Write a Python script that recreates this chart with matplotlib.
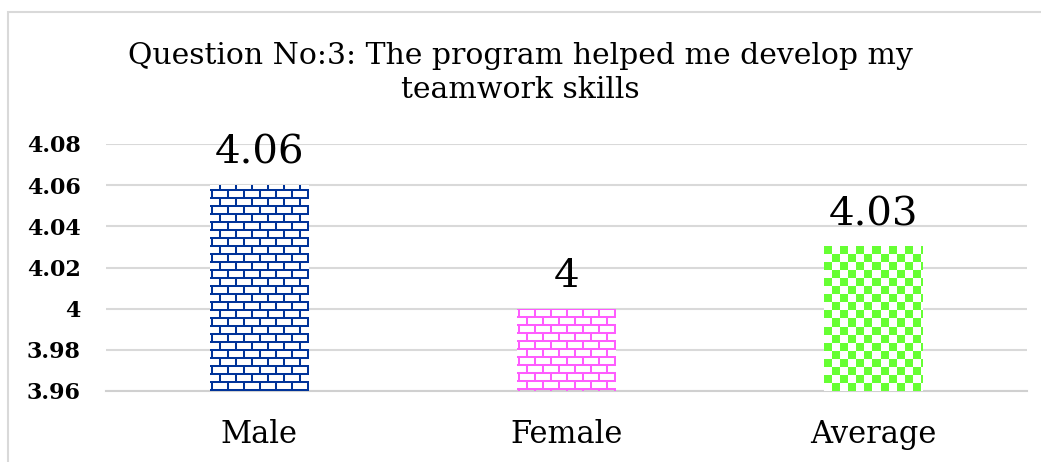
import numpy as np
import matplotlib
matplotlib.use("Agg")
import matplotlib.pyplot as plt
from matplotlib.patches import Rectangle
from matplotlib.collections import LineCollection

categories = ["Male", "Female", "Average"]
values = [4.06, 4.00, 4.03]
value_labels = ["4.06", "4", "4.03"]
yticks = [3.96, 3.98, 4.00, 4.02, 4.04, 4.06, 4.08]
ytick_labels = ["3.96", "3.98", "4", "4.02", "4.04", "4.06", "4.08"]
title = "Question No:3: The program helped me develop my\nteamwork skills"
colors = ["#003399", "#FF5CFF", "#66FF33"]
patterns = ["brick", "brick", "check"]
pattern_first_row = [5, 0, 0]

W, H = 1041, 462
fig = plt.figure(figsize=(W / 100, H / 100), dpi=100)
ax = fig.add_axes([106 / W, 1 - 391 / H, (1027 - 106) / W, (391 - 144) / H])

serif = "DejaVu Serif"

x = np.arange(len(categories))
bars = ax.bar(x, [v - 3.96 for v in values], bottom=3.96, width=0.32,
              color="white", edgecolor="none", zorder=2)
ax.set_xlim(-0.5, len(categories) - 0.5)
ax.set_ylim(3.96, 4.08)
ax.set_yticks(yticks)
ax.set_yticklabels(ytick_labels, fontfamily=serif, fontsize=16, fontweight="bold")
ax.set_xticks(x)
ax.set_xticklabels(categories, fontfamily=serif, fontsize=22)
ax.tick_params(axis="both", length=0)
ax.tick_params(axis="y", pad=18)
ax.tick_params(axis="x", pad=20)
ax.grid(axis="y", color="#D9D9D9", linewidth=1.5, zorder=0)
for s in ["top", "right", "left"]:
    ax.spines[s].set_visible(False)
ax.spines["bottom"].set_color("#D0D0D0")
ax.spines["bottom"].set_linewidth(1.5)

fig.canvas.draw()
# pixel -> data scale factors
px_x = (ax.get_xlim()[1] - ax.get_xlim()[0]) / ax.bbox.width
px_y = (ax.get_ylim()[1] - ax.get_ylim()[0]) / ax.bbox.height


def brick_lines(b, first, row=8, brick=16, xoff=10):
    x0, y0 = b.get_x(), b.get_y()
    x1, y1 = x0 + b.get_width(), y0 + b.get_height()
    segs = []
    hpx = (y1 - y0) / px_y
    wpx = (x1 - x0) / px_x
    ys = np.arange(first, hpx + row, row)
    for yp in ys:
        yd = y1 - yp * px_y
        segs.append([(x0, yd), (x1, yd)])
    bounds = np.concatenate([[first - row], ys])
    for i in range(len(bounds) - 1):
        top = y1 - bounds[i] * px_y
        bot = y1 - bounds[i + 1] * px_y
        off = xoff + (i % 2) * (brick // 2)
        for xp in np.arange(off % brick - brick, wpx + brick, brick):
            xd = x0 + xp * px_x
            segs.append([(xd, top), (xd, bot)])
    return segs


for b, col, kind, first in zip(bars, colors, patterns, pattern_first_row):
    if kind == "brick":
        lc = LineCollection(brick_lines(b, first), colors=col, linewidths=1.45,
                            zorder=3, capstyle="butt")
        ax.add_collection(lc)
        lc.set_clip_path(b)
    else:
        x0, y0 = b.get_x(), b.get_y()
        x1, y1 = x0 + b.get_width(), y0 + b.get_height()
        wpx = int(round((x1 - x0) / px_x))
        hpx = int(round((y1 - y0) / px_y))
        rgb = np.array(matplotlib.colors.to_rgb(col))
        img = np.ones((hpx, wpx, 3))
        yy, xx = np.mgrid[0:hpx, 0:wpx]
        img[((xx // 8 + yy // 8) % 2) == 0] = rgb
        ax.imshow(img, extent=(x0, x1, y0, y1), aspect="auto",
                  interpolation="nearest", zorder=3)

ax.set_xlim(-0.5, len(categories) - 0.5)
ax.set_ylim(3.96, 4.08)

for xi, v, lab in zip(x, values, value_labels):
    ax.annotate(lab, (xi, v), xytext=(0, 10), textcoords="offset points",
                ha="center", va="bottom", fontfamily=serif, fontsize=29,
                zorder=4)

fig.text(0.5, 1 - 42 / H, title, ha="center", va="top", fontfamily=serif,
         fontsize=21.5, linespacing=1.26)

fig.patches.append(Rectangle((8 / W, -0.1), 1.2, 1 - 12 / H + 0.1,
                             transform=fig.transFigure, fill=False,
                             edgecolor="#D9D9D9", linewidth=1.5))

fig.savefig("out.png", dpi=100)
